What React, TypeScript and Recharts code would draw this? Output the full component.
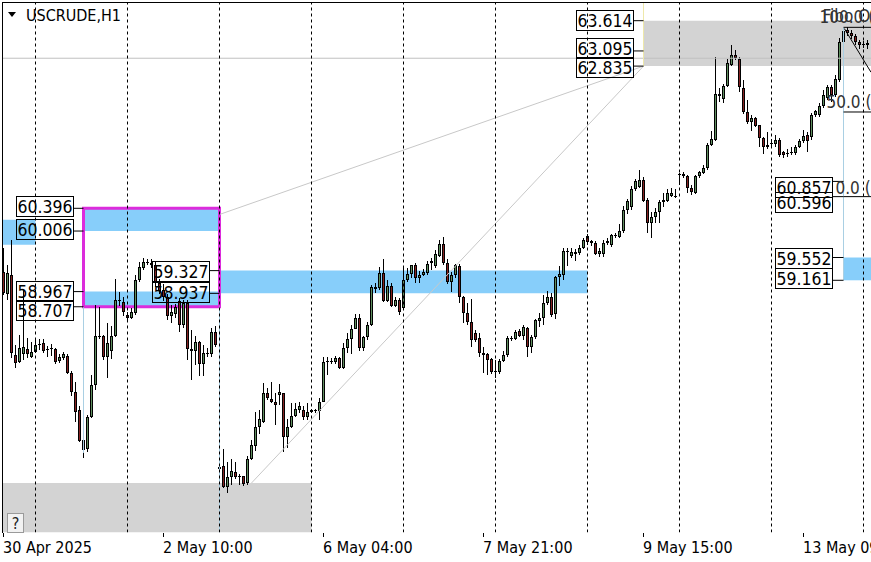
import React from 'react'
import {
  ComposedChart,
  Bar,
  XAxis,
  YAxis,
  ReferenceArea,
  ReferenceLine,
  ReferenceDot,
} from 'recharts'

// USCRUDE H1 candles (bar 0 = left edge)
const opens = [
  59.31, 58.93, 59.26, 57.88, 57.76, 57.9, 57.98, 57.85, 57.93, 58.05,
  58.09, 57.98, 57.99, 57.98, 57.78, 57.83, 57.86, 57.57, 57.25, 56.94,
  56.42, 56.27, 56.82, 57.37, 58.21, 58.21, 57.85, 57.95, 58.21, 58.82,
  58.79, 58.57, 58.52, 58.6, 59.17, 59.37, 59.48, 59.45, 59.42, 59.12,
  59.0, 58.88, 58.55, 58.58, 58.8, 58.4, 58.78, 57.98, 57.95, 58.1,
  57.72, 57.92, 57.9, 58.28, 55.95, 55.97, 55.62, 55.79, 55.88, 55.8,
  55.8, 55.68, 56.1, 56.32, 56.64, 56.73, 57.23, 57.13, 57.08, 57.2,
  57.22, 56.48, 56.65, 56.84, 56.94, 56.93, 56.82, 56.9, 56.92, 56.92,
  57.08, 57.76, 57.76, 57.76, 57.82, 57.66, 58.0, 58.15, 58.33, 58.52,
  58.0, 58.19, 58.4, 59.05, 59.03, 59.29, 58.81, 59.07, 58.72, 58.82,
  58.69, 59.17, 59.27, 59.42, 59.2, 59.25, 59.29, 59.45, 59.41, 59.58,
  59.78, 59.46, 59.13, 59.26, 59.4, 58.88, 58.6, 58.45, 58.26, 58.17,
  57.92, 57.9, 57.81, 57.6, 57.58, 57.78, 57.88, 58.17, 58.16, 58.29,
  58.21, 58.34, 58.02, 58.19, 58.47, 58.52, 58.78, 58.88, 58.59, 59.22,
  59.25, 59.66, 59.58, 59.62, 59.63, 59.72, 59.92, 59.83, 59.8, 59.62,
  59.62, 59.8, 59.76, 59.93, 59.91, 60.01, 60.37, 60.41, 60.72, 60.76,
  60.88, 60.54, 60.15, 60.25, 60.33, 60.5, 60.52, 60.61, 60.6, 60.98,
  60.98, 60.95, 60.74, 60.66, 60.95, 61.01, 61.09, 61.48, 61.57, 62.36,
  62.27, 62.5, 62.85, 63.02, 62.96, 62.46, 62.05, 61.87, 61.94, 61.82,
  61.6, 61.45, 61.5, 61.5, 61.56, 61.36, 61.32, 61.34, 61.34, 61.45,
  61.55, 61.66, 61.62, 62.0, 62.0, 62.15, 62.29, 62.48, 62.34, 62.6,
  63.25, 63.45, 63.4, 63.35, 63.25, 63.22, 63.2,
]
const highs = [
  59.72, 59.42, 59.85, 58.05, 58.22, 59.0, 58.17, 58.11, 58.17, 58.15,
  58.16, 58.03, 58.06, 58.0, 57.9, 57.93, 57.9, 57.61, 57.42, 57.0,
  56.47, 56.85, 57.54, 58.74, 58.7, 58.23, 58.43, 58.37, 59.19, 58.96,
  58.87, 58.62, 58.68, 59.25, 59.47, 59.55, 59.52, 59.52, 59.47, 59.18,
  59.1, 58.92, 58.74, 58.76, 58.85, 58.82, 58.82, 58.3, 58.2, 58.12,
  58.05, 58.0, 58.35, 58.38, 55.97, 56.27, 56.05, 56.1, 56.05, 55.84,
  55.81, 56.14, 56.42, 56.91, 56.93, 57.4, 57.31, 57.42, 57.23, 57.39,
  57.23, 56.78, 57.06, 57.06, 57.07, 57.0, 57.06, 56.96, 56.96, 57.15,
  57.85, 57.85, 57.83, 57.86, 57.85, 58.08, 58.26, 58.4, 58.59, 58.59,
  58.21, 58.45, 59.08, 59.11, 59.39, 59.53, 59.16, 59.11, 58.88, 58.86,
  59.41, 59.38, 59.43, 59.45, 59.32, 59.35, 59.49, 59.54, 59.68, 59.86,
  59.91, 59.52, 59.3, 59.44, 59.44, 58.9, 58.77, 58.84, 58.3, 58.26,
  58.02, 57.92, 57.83, 57.8, 57.81, 57.95, 58.21, 58.21, 58.31, 58.32,
  58.4, 58.36, 58.23, 58.5, 58.6, 58.91, 58.97, 58.95, 59.24, 59.41,
  59.72, 59.72, 59.72, 59.7, 59.77, 59.88, 59.95, 59.86, 59.83, 59.72,
  59.86, 59.88, 59.95, 59.98, 60.12, 60.43, 60.56, 60.78, 60.9, 61.05,
  60.94, 60.57, 60.33, 60.4, 60.54, 60.66, 60.72, 60.75, 60.72, 61.01,
  61.02, 60.97, 60.8, 60.97, 61.04, 61.14, 61.52, 61.72, 62.99, 62.46,
  62.53, 62.95, 63.2, 63.11, 62.99, 62.6, 62.25, 62.0, 61.96, 61.83,
  61.62, 61.7, 61.58, 61.65, 61.6, 61.38, 61.42, 61.45, 61.48, 61.58,
  61.74, 61.71, 62.03, 62.08, 62.2, 62.43, 62.51, 62.51, 62.68, 63.32,
  63.49, 63.5, 63.45, 63.38, 63.28, 63.27, 63.28,
]
const lows = [
  58.91, 58.82, 57.83, 57.66, 57.74, 57.8, 57.83, 57.82, 57.92, 57.97,
  57.91, 57.85, 57.86, 57.73, 57.75, 57.8, 57.55, 57.18, 56.73, 56.39,
  56.12, 56.22, 56.8, 57.28, 58.16, 57.8, 57.49, 57.81, 58.19, 58.72,
  58.55, 58.46, 58.5, 58.57, 59.14, 59.34, 59.42, 59.38, 59.05, 58.92,
  58.8, 58.48, 58.42, 58.52, 58.27, 58.35, 57.8, 57.45, 57.7, 57.52,
  57.52, 57.85, 57.85, 58.02, 55.05, 55.6, 55.52, 55.65, 55.76, 55.65,
  55.64, 55.65, 56.08, 56.23, 56.53, 56.71, 57.1, 57.06, 56.68, 57.03,
  56.22, 56.28, 56.62, 56.82, 56.88, 56.77, 56.77, 56.88, 56.89, 56.77,
  57.08, 57.54, 57.72, 57.73, 57.64, 57.64, 57.92, 57.9, 58.32, 57.95,
  57.95, 58.14, 58.38, 58.95, 59.0, 58.79, 58.79, 58.71, 58.7, 58.57,
  58.65, 59.13, 59.2, 59.12, 59.12, 59.23, 59.26, 59.34, 59.38, 59.56,
  59.43, 59.09, 58.96, 59.2, 58.77, 58.43, 58.4, 58.02, 58.1, 57.85,
  57.57, 57.54, 57.56, 57.49, 57.55, 57.76, 57.85, 58.12, 58.14, 58.19,
  58.14, 57.85, 57.92, 58.16, 58.36, 58.4, 58.73, 58.54, 58.5, 59.06,
  59.17, 59.4, 59.55, 59.5, 59.6, 59.7, 59.77, 59.75, 59.59, 59.56,
  59.56, 59.77, 59.73, 59.88, 59.89, 59.98, 60.29, 60.37, 60.7, 60.74,
  60.5, 59.98, 59.88, 60.15, 60.15, 60.42, 60.5, 60.59, 60.57, 60.8,
  60.92, 60.66, 60.63, 60.64, 60.91, 60.99, 61.05, 61.46, 61.55, 62.22,
  62.21, 62.47, 62.83, 62.94, 62.39, 62.02, 61.85, 61.72, 61.79, 61.45,
  61.33, 61.42, 61.43, 61.45, 61.28, 61.26, 61.28, 61.31, 61.31, 61.43,
  61.52, 61.36, 61.57, 61.97, 61.96, 62.12, 62.26, 62.22, 62.31, 62.56,
  63.23, 63.35, 63.3, 63.2, 63.12, 63.15, 63.12,
]
const closes = [
  58.94, 59.28, 57.92, 57.75, 58.0, 58.02, 57.9, 57.93, 58.05, 58.07,
  57.95, 57.99, 58.0, 57.76, 57.85, 57.9, 57.57, 57.25, 56.9, 56.41,
  56.25, 56.82, 57.37, 58.21, 58.18, 57.85, 58.09, 58.21, 58.83, 58.8,
  58.62, 58.52, 58.62, 59.17, 59.39, 59.48, 59.45, 59.42, 59.12, 58.97,
  58.88, 58.55, 58.62, 58.7, 58.4, 58.78, 57.98, 57.95, 58.1, 57.72,
  57.92, 57.9, 58.28, 58.05, 55.93, 55.62, 55.79, 55.89, 55.78, 55.78,
  55.67, 56.1, 56.34, 56.65, 56.79, 57.23, 57.15, 57.08, 57.03, 57.24,
  56.48, 56.65, 56.83, 56.96, 57.0, 56.82, 56.9, 56.93, 56.93, 57.08,
  57.76, 57.78, 57.78, 57.82, 57.66, 58.0, 58.16, 58.33, 58.52, 58.0,
  58.19, 58.4, 59.05, 59.02, 59.29, 58.81, 59.07, 58.72, 58.82, 58.62,
  59.17, 59.27, 59.42, 59.2, 59.26, 59.3, 59.44, 59.49, 59.62, 59.78,
  59.46, 59.13, 59.25, 59.42, 58.88, 58.6, 58.45, 58.14, 58.14, 57.92,
  57.88, 57.8, 57.59, 57.58, 57.78, 57.88, 58.17, 58.15, 58.28, 58.21,
  58.36, 58.02, 58.19, 58.48, 58.52, 58.78, 58.88, 58.57, 59.22, 59.27,
  59.66, 59.64, 59.65, 59.65, 59.72, 59.85, 59.81, 59.8, 59.61, 59.66,
  59.8, 59.84, 59.93, 59.92, 60.01, 60.37, 60.52, 60.72, 60.86, 60.88,
  60.52, 60.15, 60.25, 60.33, 60.51, 60.53, 60.66, 60.66, 60.59, 60.99,
  60.95, 60.74, 60.68, 60.95, 61.02, 61.09, 61.49, 61.58, 62.36, 62.33,
  62.5, 62.89, 63.03, 62.97, 62.48, 62.05, 61.87, 61.94, 61.81, 61.6,
  61.45, 61.49, 61.52, 61.56, 61.31, 61.31, 61.34, 61.36, 61.45, 61.55,
  61.64, 61.55, 62.0, 62.06, 62.15, 62.34, 62.48, 62.34, 62.62, 63.25,
  63.44, 63.4, 63.35, 63.25, 63.2, 63.21, 63.23,
]

const tickBars = [0, 40, 80, 120, 160, 200]
const tickLabels = ['30 Apr 2025', '2 May 10:00', '6 May 04:00', '7 May 21:00', '9 May 15:00', '13 May 09:00']
// day separators
const gridBars = [8, 31, 54, 77, 100, 123, 146, 169, 192, 215]

// fibonacci: 0.0 and 100.0 levels
const fibLow = 60.596
const fibHigh = 63.5

const X_MIN = -0.25
const X_MAX = 216.875
const Y_MIN = 54.835
const Y_MAX = 63.926

const FONT = '"DejaVu Sans Condensed", "DejaVu Sans", sans-serif'
const GREEN = '#5f8f5f'
const RED = '#862222'
const BLUE = '#87cefa'
const ZONE_GRAY = '#d3d3d3'
const THIN = '#c8c8c8'
const EDGE = '#a9cfe3'

const rows = opens.map((open, i) => ({
  i,
  open,
  close: closes[i],
  wick: [lows[i], highs[i]],
  body: [Math.min(open, closes[i]), Math.max(open, closes[i])],
}))

function Wick(props: any) {
  const { x, y, width, height } = props
  if (x == null || y == null) return null
  const col = Math.round(x + width / 2 - 0.5)
  const top = Math.round(y)
  const bottom = Math.max(Math.round(y + height), top + 1)
  return <rect x={col} y={top} width={1} height={bottom - top} fill="#000" />
}

function Body(props: any) {
  const { x, y, width, height, payload } = props
  if (x == null || y == null) return null
  const col = Math.round(x + width / 2 - 0.5)
  const top = Math.round(y)
  const bottom = Math.round(y + height)
  if (bottom - top < 2) {
    return <rect x={col - 1} y={top} width={3} height={1} fill="#000" />
  }
  const up = payload.close >= payload.open
  return (
    <rect
      x={col - 0.5}
      y={top + 0.5}
      width={2}
      height={bottom - top - 1}
      fill={up ? GREEN : RED}
      stroke="#000"
      strokeWidth={1}
    />
  )
}

// time label hanging under the axis line, anchored at (bar, bottom of price range)
function TimeLabel(props: any) {
  const { cx, cy, text } = props
  if (cx == null || cy == null) return null
  const col = Math.round(cx - 0.5)
  const base = Math.round(cy)
  return (
    <g>
      <rect x={col} y={base} width={1} height={4} fill="#000" />
      <text x={col} y={base + 20} fontSize={16} fontFamily={FONT} fill="#000">
        {text}
      </text>
    </g>
  )
}

function PriceTag(props: any) {
  const { cx, cy, text, nudge } = props
  if (cx == null || cy == null) return null
  const top = Math.round(cy + nudge - 10) + 0.5
  const right = Math.round(cx) + 0.5
  return (
    <g>
      <rect x={right - 57} y={top} width={57} height={20} fill="none" stroke="#000" />
      <text x={right - 56} y={top + 16.5} fontSize={17.5} fontFamily={FONT} fill="#000">
        {text}
      </text>
    </g>
  )
}

function FibText(props: any) {
  const { cx, cy, text, dx, dy } = props
  if (cx == null || cy == null) return null
  return (
    <text x={cx + dx} y={cy + dy} fontSize={17} fontFamily={FONT} fill="#333">
      {text}
    </text>
  )
}

export default function App() {
  const tags = [
    { text: '60.396', price: 60.396, from: 17.375, to: 20, nudge: -2 },
    { text: '60.006', price: 60.006, from: 17.375, to: 20, nudge: -2 },
    { text: '58.967', price: 58.967, from: 17.375, to: 20, nudge: -1 },
    { text: '58.707', price: 58.707, from: 17.375, to: 20, nudge: 3 },
    { text: '59.327', price: 59.327, from: 51.375, to: 54, nudge: 0 },
    { text: '58.937', price: 58.937, from: 51.375, to: 54, nudge: -1 },
    { text: '63.614', price: 63.614, from: 157.375, to: 160, nudge: -1 },
    { text: '63.095', price: 63.095, from: 157.375, to: 160, nudge: -3 },
    { text: '62.835', price: 62.835, from: 157.375, to: 160, nudge: 1 },
    { text: '60.857', price: 60.857, from: 207.125, to: 210, nudge: 6 },
    { text: '60.596', price: 60.596, from: 207.125, to: 210, nudge: 5 },
    { text: '59.552', price: 59.552, from: 207.125, to: 210, nudge: 0 },
    { text: '59.161', price: 59.161, from: 207.125, to: 210, nudge: -2 },
  ]
  const fibMid = (fibLow + fibHigh) / 2

  return (
    <div style={{ position: 'absolute', left: 0, top: 0, width: 871, height: 562, background: '#fff' }}>
      <ComposedChart
        width={871}
        height={562}
        data={rows}
        margin={{ top: 2.5, right: 0, bottom: 0, left: 2.5 }}
      >
        <XAxis
          xAxisId="main"
          dataKey="i"
          type="number"
          domain={[X_MIN, X_MAX]}
          allowDataOverflow
          tick={false}
          tickLine={false}
          axisLine={{ stroke: '#000' }}
          height={29.5}
        />
        <XAxis xAxisId="body" dataKey="i" type="number" domain={[X_MIN, X_MAX]} allowDataOverflow hide />
        <YAxis domain={[Y_MIN, Y_MAX]} allowDataOverflow hide />

        {/* zones */}
        <ReferenceArea xAxisId="main" x1={X_MIN} x2={8} y1={59.77} y2={60.2} fill={BLUE} fillOpacity={1} stroke="none" ifOverflow="hidden" />
        <ReferenceArea xAxisId="main" x1={20} x2={54} y1={60.006} y2={60.396} fill={BLUE} fillOpacity={1} stroke="none" ifOverflow="hidden" />
        <ReferenceArea xAxisId="main" x1={20} x2={54} y1={58.707} y2={58.967} fill={BLUE} fillOpacity={1} stroke="none" ifOverflow="hidden" />
        <ReferenceArea xAxisId="main" x1={54} x2={146} y1={58.937} y2={59.327} fill={BLUE} fillOpacity={1} stroke="none" ifOverflow="hidden" />
        <ReferenceArea xAxisId="main" x1={210} x2={X_MAX} y1={59.161} y2={59.552} fill={BLUE} fillOpacity={1} stroke="none" ifOverflow="hidden" />
        <ReferenceArea xAxisId="main" x1={160} x2={X_MAX} y1={62.835} y2={63.614} fill={ZONE_GRAY} fillOpacity={1} stroke="none" ifOverflow="hidden" />
        <ReferenceArea xAxisId="main" x1={X_MIN} x2={77} y1={Y_MIN} y2={55.684} fill={ZONE_GRAY} fillOpacity={1} stroke="none" ifOverflow="hidden" />

        {/* thin guide lines */}
        <ReferenceLine xAxisId="main" y={62.97} stroke="#c0c0c0" ifOverflow="hidden" />
        <ReferenceLine xAxisId="main" segment={[{ x: 54, y: 60.29 }, { x: 160, y: 62.835 }]} stroke={THIN} ifOverflow="hidden" />
        <ReferenceLine xAxisId="main" segment={[{ x: 62, y: 55.684 }, { x: 160, y: 62.835 }]} stroke={THIN} ifOverflow="hidden" />
        <ReferenceLine xAxisId="main" segment={[{ x: 20, y: 58.707 }, { x: 20, y: 56.2 }]} stroke={EDGE} ifOverflow="hidden" />
        <ReferenceLine xAxisId="main" segment={[{ x: 54, y: 58.707 }, { x: 54, y: Y_MIN }]} stroke={EDGE} ifOverflow="hidden" />
        <ReferenceLine xAxisId="main" segment={[{ x: 210, y: fibHigh }, { x: 210, y: 59.161 }]} stroke={EDGE} ifOverflow="hidden" />
        <ReferenceLine xAxisId="main" segment={[{ x: 160, y: Y_MAX }, { x: 160, y: 62.835 }]} stroke="#eee8aa" ifOverflow="hidden" />

        {gridBars.map((g) => (
          <ReferenceLine key={g} xAxisId="main" x={g} stroke="#000" strokeDasharray="3 3" ifOverflow="hidden" />
        ))}

        {/* candles */}
        <Bar xAxisId="main" dataKey="wick" barSize={1} shape={<Wick />} isAnimationActive={false} />
        <Bar xAxisId="body" dataKey="body" barSize={3} shape={<Body />} isAnimationActive={false} />

        {/* magenta box */}
        <ReferenceArea xAxisId="main" x1={20} x2={54} y1={58.707} y2={60.396} fill="none" stroke="#dc2cdc" strokeWidth={3} ifOverflow="hidden" />

        {/* fibonacci */}
        <ReferenceLine xAxisId="main" segment={[{ x: 210, y: fibHigh }, { x: X_MAX, y: fibHigh }]} stroke="#000" ifOverflow="hidden" />
        <ReferenceLine xAxisId="main" segment={[{ x: 210, y: fibMid }, { x: X_MAX, y: fibMid }]} stroke="#000" ifOverflow="hidden" />
        <ReferenceLine xAxisId="main" segment={[{ x: 210, y: fibLow }, { x: X_MAX, y: fibLow }]} stroke="#000" ifOverflow="hidden" />
        <ReferenceLine xAxisId="main" segment={[{ x: 210.2, y: 63.48 }, { x: X_MAX, y: 62.73 }]} stroke="#000" ifOverflow="hidden" />
        <ReferenceDot xAxisId="main" x={210} y={fibHigh} r={1} ifOverflow="visible" shape={(p: any) => <FibText {...p} text="Fibo O" dx={-21} dy={-5} />} />
        <ReferenceDot xAxisId="main" x={210} y={fibHigh} r={1} ifOverflow="visible" shape={(p: any) => <FibText {...p} text="100.0 (" dx={-24} dy={-4} />} />
        <ReferenceDot xAxisId="main" x={210} y={fibMid} r={1} ifOverflow="visible" shape={(p: any) => <FibText {...p} text="50.0 (" dx={-17} dy={-4} />} />
        <ReferenceDot xAxisId="main" x={210} y={fibLow} r={1} ifOverflow="visible" shape={(p: any) => <FibText {...p} text="0.0 (" dx={-8} dy={-3} />} />

        {/* price tags */}
        {tags.map((t) => (
          <ReferenceLine
            key={'c' + t.text}
            xAxisId="main"
            segment={[{ x: t.from, y: t.price }, { x: t.to, y: t.price }]}
            stroke="#000"
            ifOverflow="hidden"
          />
        ))}
        {tags.map((t) => (
          <ReferenceDot
            key={'t' + t.text}
            xAxisId="main"
            x={t.from}
            y={t.price}
            r={1}
            ifOverflow="visible"
            shape={(p: any) => <PriceTag {...p} text={t.text} nudge={t.nudge} />}
          />
        ))}

        {/* time axis labels */}
        {tickBars.map((b, k) => (
          <ReferenceDot
            key={'x' + b}
            xAxisId="main"
            x={b}
            y={Y_MIN}
            r={1}
            ifOverflow="visible"
            shape={(p: any) => <TimeLabel {...p} text={tickLabels[k]} />}
          />
        ))}
      </ComposedChart>

      <svg width={871} height={562} style={{ position: 'absolute', left: 0, top: 0, pointerEvents: 'none' }}>
        <rect x={2} y={2} width={869} height={1} fill="#000" />
        <rect x={2} y={2} width={1} height={531} fill="#000" />
        <path d="M8 12 L16 12 L12 17 Z" fill="#000" />
        <text x={26} y={21} fontSize={16} fontFamily={FONT} fill="#000">
          USCRUDE,H1
        </text>
        <rect x={7.5} y={513.5} width={16} height={19} fill="#f2f2f2" stroke="#9a9a9a" />
        <text x={15.5} y={529} textAnchor="middle" fontSize={16} fontFamily={FONT} fill="#222">
          ?
        </text>
      </svg>
    </div>
  )
}
